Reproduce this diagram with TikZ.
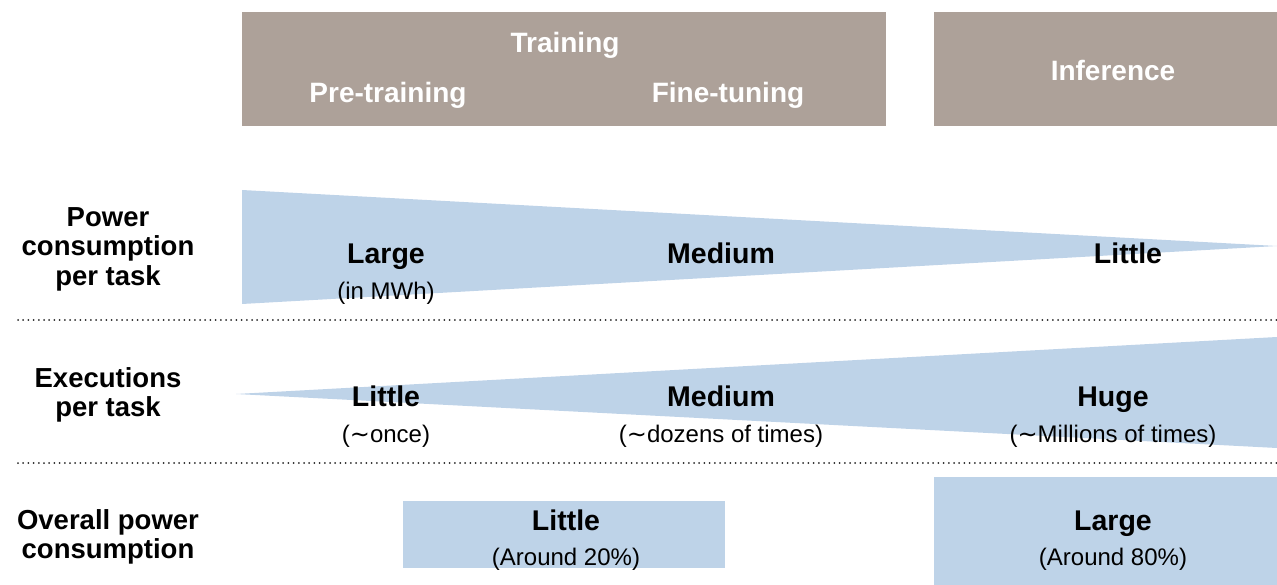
\documentclass[tikz,border=0pt]{standalone}
\usepackage{fontspec}
\setmainfont{Liberation Sans}
\newfontfamily\tildefont{DejaVu Sans}
\usetikzlibrary{positioning}
% colour of the phase headers
\definecolor{colHead}{RGB}{173,161,153}
% colour of the wedges and bars
\definecolor{colBar}{RGB}{190,211,232}
\newcommand{\til}{{\tildefont ∼}}
\tikzset{
  headtext/.style={text=white, font=\fontsize{28}{30}\selectfont\bfseries, inner sep=0},
  rowlabel/.style={align=center, font=\fontsize{27.5}{29.5}\selectfont\bfseries, inner sep=0},
  valtext/.style={font=\fontsize{28.5}{30}\selectfont\bfseries, inner sep=0,
    text height=21pt, text depth=6pt},
  subtext/.style={font=\fontsize{24}{26}\selectfont, inner sep=0,
    text height=17pt, text depth=5pt},
  sepline/.style={line width=2pt, dash pattern=on 0pt off 5.2pt, line cap=round, black!85}
}
\begin{document}
\begin{tikzpicture}[x=1pt, y=-1pt]
  \useasboundingbox (0,0) rectangle (1277,585);

  % phase headers
  \fill[colHead] (242,12) rectangle (886,126);
  \fill[colHead] (934,12) rectangle (1277,126);
  \node[headtext] (train) at (565,45) {Training};
  \node[headtext] (pre) at (388,95) {Pre-training};
  \node[headtext] (fine) at (728,95) {Fine-tuning};
  \node[headtext] (infer) at (1113,70) {Inference};

  % wedges for the two rows
  \fill[colBar] (242,190) -- (1277,246) -- (242,304) -- cycle;
  \fill[colBar] (236,394) -- (1277,337) -- (1277,448) -- cycle;

  % bars for the last row
  \fill[colBar] (403,501) rectangle (725,568);
  \fill[colBar] (934,477) rectangle (1277,585);

  % dotted separators
  \draw[sepline] (18,320) -- (1277,320);
  \draw[sepline] (18,463) -- (1277,463);

  % row labels
  \node[rowlabel] (powlab) at (108,249) {Power\\consumption\\per task};
  \node[rowlabel] (exelab) at (108,395) {Executions\\per task};
  \node[rowlabel] (totlab) at (108,537) {Overall power\\consumption};

  % power per task
  \node[valtext] (powL) at (386,256) {Large};
  \node[subtext] [below=13pt of powL] {(in MWh)};
  \node[valtext] (powM) at (721,256) {Medium};
  \node[valtext] (powS) at (1128,256) {Little};

  % executions per task
  \node[valtext] (exeS) at (386,399) {Little};
  \node[subtext] [below=13pt of exeS] {(\til once)};
  \node[valtext] (exeM) at (721,399) {Medium};
  \node[subtext] [below=13pt of exeM] {(\til dozens of times)};
  \node[valtext] (exeL) at (1113,399) {Huge};
  \node[subtext] [below=13pt of exeL] {(\til Millions of times)};

  % overall consumption
  \node[valtext] (totS) at (566,523) {Little};
  \node[subtext] [below=12pt of totS] {(Around 20\%)};
  \node[valtext] (totL) at (1113,523) {Large};
  \node[subtext] [below=12pt of totL] {(Around 80\%)};

\end{tikzpicture}
\end{document}
